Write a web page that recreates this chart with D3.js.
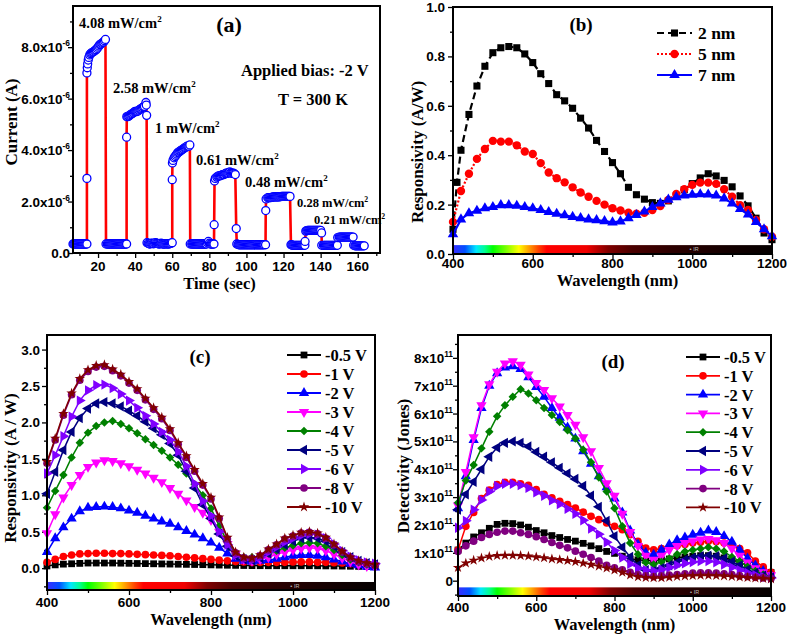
<!DOCTYPE html>
<html><head><meta charset="utf-8">
<script src="https://cdn.jsdelivr.net/npm/d3@7"></script>
<style>body{margin:0;background:#fff}svg{display:block}</style>
</head><body>
<script>
// ---------------- DATA ----------------
// Panel (a): transient photocurrent (units of 1e-6 A)
const timeSec = [
6.5,7,7.5,8,8.5,9,9.5,10,10.5,11,11.5,12,12.5,13,13.5,14,
14,14,14.2,14.4,14.7,15,15.5,16,16.5,17,17.5,18,18.5,19,19.5,20,20.5,21,21.5,22,22.5,23,23.5,24,
24.3,25,25.5,26,26.5,27,27.5,28,28.5,29,29.5,30,30.5,31,31.5,32,32.5,33,33.5,34,34.5,35,35.4,
35.4,35.5,36,36.5,37,37.5,38,38.5,39,39.5,40,40.5,41,41.5,42,42.5,43,43.5,44,44.5,45,45.8,46,46.2,
46.4,47,47.5,48,48.5,49,49.5,50,50.5,51,51.5,52,52.5,53,53.5,54,54.5,55,55.5,56,56.5,57,57.5,58,58.5,59,59.5,60,
60,60.1,60.4,61,61.5,62,62.5,63,63.5,64,64.5,65,65.5,66,66.5,67,67.5,68,68.5,69,69.5,
69.7,70.5,71,71.5,72,72.5,73,73.5,74,74.5,75,75.5,76,76.5,77,77.5,78,78.5,79,79.5,80,80.5,81,81.5,82,82.5,
82.6,82.8,83.2,84,84.5,85,85.5,86,86.5,87,87.5,88,88.5,89,89.5,90,90.5,91,91.5,92,92.5,93,93.5,94,94.5,
94.8,95.5,96,96.5,97,97.5,98,98.5,99,99.5,100,100.5,101,101.5,102,102.5,103,103.5,104,104.5,105,105.5,106,106.5,107,107.5,108,108.5,109,109.5,110.3,
110.4,110.6,111.5,112,112.5,113,113.5,114,114.5,115,115.5,116,116.5,117,117.5,118,118.5,119,119.5,120,120.5,121,121.5,122,122.5,123,123.5,
124,124.5,125,125.5,126,126.5,127,127.5,128,128.5,129,129.5,130,130.5,131,131.5,
131.6,132,132.5,133,133.5,134,134.5,135,135.5,136,136.5,137,137.5,138,138.5,139,139.5,140,140.5,
140.6,141.5,142,142.5,143,143.5,144,144.5,145,145.5,146,146.5,147,147.5,148,148.5,149,
149.2,150,150.5,151,151.5,152,152.5,153,153.5,154,154.5,155,155.5,156,156.5,157,157.5,
157.8,158.5,159,159.5,160,160.5,161,161.5,162,162.5,163,163.5];
const currentMicroA = [
0.35,0.35,0.35,0.35,0.35,0.35,0.35,0.35,0.35,0.35,0.35,0.35,0.35,0.35,0.35,0.35,
2.9,7.0,7.2,7.35,7.5,7.6,7.7,7.75,7.78,7.8,7.82,7.85,7.88,7.9,7.95,8.0,8.05,8.1,8.12,8.15,8.18,8.2,8.25,8.3,
0.35,0.35,0.35,0.35,0.35,0.35,0.35,0.35,0.35,0.35,0.35,0.35,0.35,0.35,0.35,0.35,0.35,0.35,0.35,0.35,0.35,0.35,0.35,
4.5,5.3,5.3,5.32,5.35,5.38,5.4,5.42,5.45,5.48,5.5,5.5,5.5,5.52,5.55,5.58,5.6,5.62,5.65,5.68,5.7,5.85,5.75,5.35,
0.4,0.38,0.36,0.35,0.37,0.38,0.37,0.36,0.38,0.4,0.38,0.37,0.36,0.35,0.36,0.38,0.36,0.35,0.35,0.35,0.36,0.36,0.35,0.35,0.36,0.37,0.38,0.4,
2.85,3.5,3.6,3.7,3.75,3.8,3.85,3.9,3.92,3.95,3.98,4.0,4.02,4.05,4.08,4.1,4.12,4.15,4.15,4.15,4.2,
0.35,0.35,0.35,0.35,0.35,0.35,0.35,0.35,0.35,0.35,0.35,0.35,0.35,0.35,0.35,0.35,0.35,0.35,0.4,0.45,0.38,0.35,0.35,0.35,0.35,0.35,
1.1,2.8,2.9,2.95,2.98,3.0,3.0,3.0,3.02,3.05,3.05,3.05,3.08,3.1,3.1,3.1,3.12,3.15,3.12,3.1,3.1,3.1,3.08,3.05,0.95,
0.35,0.33,0.32,0.32,0.32,0.32,0.32,0.32,0.32,0.32,0.32,0.32,0.32,0.32,0.32,0.32,0.32,0.32,0.32,0.32,0.32,0.32,0.32,0.32,0.32,0.32,0.32,0.32,0.32,0.32,0.32,
1.65,2.1,2.15,2.15,2.15,2.15,2.16,2.17,2.18,2.18,2.18,2.18,2.18,2.18,2.18,2.19,2.19,2.2,2.2,2.2,2.2,2.2,2.2,2.2,2.2,2.2,2.2,
0.32,0.31,0.3,0.3,0.3,0.3,0.3,0.3,0.3,0.3,0.3,0.3,0.3,0.3,0.3,0.3,
0.45,0.85,0.87,0.88,0.88,0.88,0.88,0.88,0.88,0.88,0.88,0.88,0.88,0.88,0.88,0.88,0.88,0.88,0.78,
0.3,0.3,0.3,0.3,0.3,0.3,0.3,0.3,0.3,0.3,0.3,0.3,0.3,0.3,0.3,0.3,0.3,
0.6,0.62,0.62,0.62,0.62,0.62,0.62,0.62,0.62,0.62,0.62,0.62,0.62,0.62,0.62,0.62,0.62,
0.3,0.28,0.28,0.28,0.28,0.28,0.28,0.28,0.28,0.28,0.28,0.28];
const intensityLabels = ["4.08","2.58","1","0.61","0.48","0.28","0.21"];

// Panel (b): responsivity vs wavelength for thicknesses
const wave = [400,420,440,460,480,500,520,540,560,580,600,620,640,660,680,700,720,740,760,780,800,820,840,860,880,900,920,940,960,980,1000,1020,1040,1060,1080,1100,1120,1140,1160,1180,1200];
const wave2nm = [400,410,420,440,460,480,500,520,540,560,580,600,620,640,660,680,700,720,740,760,780,800,820,840,860,880,900,920,940,960,980,1000,1020,1040,1060,1080,1100,1120,1140,1160,1180,1200];
const resp2nm = [0.10,0.29,0.42,0.565,0.68,0.76,0.815,0.835,0.84,0.835,0.81,0.775,0.73,0.69,0.645,0.62,0.59,0.55,0.51,0.46,0.415,0.37,0.325,0.27,0.24,0.222,0.208,0.205,0.215,0.235,0.26,0.285,0.308,0.325,0.316,0.298,0.272,0.235,0.195,0.145,0.085,0.058];
const resp5nm = [0.13,0.255,0.325,0.385,0.425,0.458,0.455,0.455,0.44,0.415,0.405,0.368,0.33,0.307,0.29,0.27,0.249,0.232,0.215,0.2,0.185,0.176,0.167,0.163,0.167,0.178,0.194,0.219,0.243,0.262,0.28,0.289,0.289,0.284,0.262,0.232,0.198,0.178,0.138,0.1,0.07];
const resp7nm = [0.08,0.14,0.165,0.175,0.185,0.19,0.198,0.198,0.195,0.19,0.185,0.178,0.17,0.163,0.157,0.15,0.145,0.14,0.137,0.133,0.128,0.132,0.145,0.158,0.172,0.19,0.205,0.22,0.23,0.237,0.24,0.242,0.241,0.237,0.225,0.205,0.182,0.16,0.13,0.1,0.072];
const thickLabels = ["2 nm","5 nm","7 nm"];

// Panels (c),(d): bias series
const biasLabels = ["-0.5 V","-1 V","-2 V","-3 V","-4 V","-5 V","-6 V","-8 V","-10 V"];
const respC05 = [0.03,0.045,0.055,0.06,0.065,0.07,0.07,0.07,0.07,0.068,0.066,0.064,0.062,0.06,0.058,0.056,0.054,0.052,0.05,0.048,0.045,0.042,0.04,0.038,0.036,0.035,0.034,0.033,0.033,0.033,0.033,0.033,0.033,0.032,0.031,0.03,0.028,0.026,0.024,0.022,0.02];
const respC1 = [0.08,0.12,0.16,0.18,0.195,0.20,0.205,0.205,0.20,0.20,0.195,0.19,0.185,0.18,0.175,0.17,0.16,0.15,0.14,0.13,0.12,0.11,0.10,0.09,0.085,0.08,0.08,0.08,0.08,0.08,0.085,0.085,0.085,0.08,0.08,0.075,0.07,0.06,0.05,0.04,0.03];
const respC2 = [0.22,0.41,0.56,0.68,0.78,0.83,0.84,0.845,0.84,0.82,0.79,0.76,0.72,0.68,0.64,0.61,0.56,0.51,0.46,0.41,0.35,0.28,0.20,0.13,0.10,0.09,0.10,0.11,0.13,0.15,0.17,0.18,0.18,0.17,0.15,0.12,0.09,0.06,0.04,0.02,0.01];
const respC3 = [0.48,0.74,0.97,1.14,1.28,1.39,1.45,1.48,1.47,1.44,1.40,1.35,1.30,1.24,1.18,1.10,1.02,0.93,0.84,0.76,0.66,0.50,0.33,0.19,0.12,0.10,0.12,0.15,0.19,0.22,0.25,0.27,0.28,0.27,0.24,0.19,0.14,0.09,0.05,0.03,0.02];
const respC4 = [0.83,1.06,1.28,1.52,1.72,1.86,1.95,2.00,2.02,1.98,1.92,1.85,1.77,1.69,1.61,1.52,1.42,1.30,1.15,1.00,0.82,0.58,0.36,0.20,0.15,0.15,0.16,0.20,0.24,0.28,0.31,0.34,0.35,0.34,0.30,0.25,0.18,0.12,0.08,0.05,0.03];
const respC5 = [1.02,1.32,1.62,1.87,2.06,2.19,2.26,2.28,2.26,2.22,2.16,2.09,2.01,1.92,1.83,1.71,1.55,1.33,1.10,0.87,0.68,0.47,0.30,0.17,0.12,0.11,0.14,0.20,0.26,0.32,0.37,0.41,0.42,0.41,0.37,0.30,0.22,0.15,0.10,0.07,0.05];
const respC6 = [1.30,1.55,1.81,2.08,2.30,2.44,2.51,2.52,2.47,2.39,2.30,2.20,2.09,1.98,1.87,1.76,1.60,1.40,1.16,0.92,0.72,0.50,0.32,0.18,0.12,0.11,0.15,0.22,0.29,0.36,0.41,0.45,0.47,0.46,0.41,0.33,0.24,0.16,0.11,0.08,0.06];
const respC8 = [1.44,1.76,2.10,2.38,2.58,2.70,2.76,2.77,2.71,2.64,2.54,2.44,2.31,2.18,2.05,1.89,1.70,1.52,1.33,1.14,0.95,0.68,0.40,0.21,0.14,0.13,0.17,0.25,0.32,0.40,0.44,0.48,0.49,0.47,0.41,0.32,0.22,0.14,0.09,0.06,0.04];
const respC10 = [1.46,1.78,2.12,2.40,2.60,2.72,2.78,2.79,2.73,2.66,2.56,2.46,2.33,2.20,2.07,1.91,1.72,1.54,1.35,1.16,0.97,0.70,0.42,0.22,0.15,0.14,0.18,0.26,0.33,0.41,0.45,0.49,0.50,0.48,0.42,0.33,0.23,0.15,0.10,0.07,0.05];
// detectivity in units of 1e11 Jones
const detD05 = [1.1,1.35,1.57,1.72,1.88,2.02,2.06,2.05,2.0,1.92,1.8,1.72,1.62,1.55,1.48,1.42,1.34,1.25,1.15,1.05,0.98,0.88,0.78,0.75,0.72,0.72,0.75,0.78,0.82,0.85,0.88,0.9,0.9,0.88,0.82,0.75,0.65,0.55,0.47,0.4,0.3];
const detD1 = [1.1,1.95,2.45,2.95,3.25,3.45,3.53,3.53,3.48,3.42,3.27,3.1,2.97,2.85,2.73,2.61,2.46,2.31,2.19,2.07,1.95,1.83,1.65,1.41,1.17,1.11,1.15,1.2,1.25,1.3,1.35,1.38,1.42,1.4,1.35,1.25,1.15,1.0,0.7,0.5,0.3];
const detD2 = [2.6,3.75,5.05,6.2,7.0,7.45,7.65,7.7,7.6,7.3,6.95,6.6,6.2,5.85,5.5,5.1,4.65,4.2,3.75,3.35,2.95,2.45,1.8,1.3,1.0,0.93,1.1,1.3,1.45,1.55,1.65,1.72,1.8,1.75,1.6,1.4,1.1,0.8,0.55,0.35,0.2];
const detD3 = [2.7,3.9,5.15,6.3,7.05,7.5,7.8,7.88,7.75,7.4,7.1,6.85,6.55,6.25,5.95,5.6,5.15,4.65,4.05,3.5,3.05,2.4,1.75,1.25,0.9,0.75,0.9,1.1,1.25,1.35,1.42,1.48,1.5,1.45,1.35,1.15,0.9,0.65,0.45,0.3,0.2];
const detD4 = [2.8,3.6,4.15,4.75,5.35,5.9,6.3,6.6,6.87,6.72,6.48,6.2,5.95,5.7,5.4,5.1,4.7,4.25,3.7,3.2,2.6,1.95,1.35,0.95,0.65,0.58,0.68,0.8,0.95,1.05,1.1,1.15,1.2,1.15,1.05,0.85,0.7,0.5,0.35,0.22,0.12];
const detD5 = [2.55,3.1,3.55,4.0,4.45,4.78,4.95,5.0,4.95,4.82,4.62,4.45,4.25,4.05,3.85,3.65,3.4,3.05,2.65,2.15,1.6,1.2,0.85,0.55,0.38,0.35,0.45,0.55,0.65,0.75,0.82,0.88,0.9,0.88,0.8,0.68,0.55,0.4,0.28,0.18,0.12];
const detD6 = [1.9,2.15,2.55,2.9,3.2,3.4,3.48,3.48,3.43,3.33,3.17,3.05,2.88,2.75,2.58,2.4,2.17,1.87,1.67,1.38,1.08,0.83,0.6,0.45,0.38,0.35,0.4,0.47,0.55,0.62,0.67,0.7,0.7,0.66,0.58,0.48,0.38,0.28,0.2,0.14,0.1];
const detD8 = [1.05,1.25,1.42,1.55,1.66,1.74,1.78,1.78,1.72,1.66,1.58,1.48,1.37,1.27,1.18,1.06,0.95,0.83,0.7,0.55,0.46,0.39,0.3,0.22,0.17,0.15,0.17,0.2,0.22,0.25,0.27,0.28,0.28,0.27,0.25,0.22,0.18,0.15,0.12,0.1,0.08];
const detD10 = [0.47,0.63,0.73,0.81,0.87,0.9,0.91,0.91,0.9,0.88,0.85,0.82,0.78,0.75,0.72,0.68,0.63,0.58,0.52,0.45,0.38,0.3,0.2,0.14,0.11,0.1,0.1,0.12,0.15,0.17,0.18,0.19,0.19,0.18,0.17,0.15,0.13,0.11,0.09,0.08,0.06];

// tick values
const ticksA_x = [20,40,60,80,100,120,140,160], ticksA_xMinor = [10,30,50,70,90,110,130,150,170];
const ticksA_y = [0,2,4,6,8], ticksA_yMinor = [1,3,5,7,9];
const ticksW = [400,600,800,1000,1200], ticksW_minor = [500,700,900,1100];
const ticksB_y = [0,0.2,0.4,0.6,0.8,1.0], ticksB_yMinor = [0.1,0.3,0.5,0.7,0.9];
const ticksC_y = [0,0.5,1.0,1.5,2.0,2.5,3.0], ticksC_yMinor = [-0.25,0.25,0.75,1.25,1.75,2.25,2.75];
const ticksD_y = [0,1,2,3,4,5,6,7,8], ticksD_yMinor = [-0.5,0.5,1.5,2.5,3.5,4.5,5.5,6.5,7.5,8.5];

// spectrum colour bar stops (nm, colour)
const specStops = [[400,"#3b2cff"],[430,"#0050ff"],[458,"#00e8ff"],[480,"#00ff90"],[500,"#00ff00"],[530,"#70ff00"],[565,"#ffff00"],[590,"#ffa000"],[615,"#ff4000"],[635,"#ff0000"],[735,"#f00000"],[790,"#800000"],[850,"#4a0000"],[950,"#2c0000"],[1100,"#120000"],[1200,"#050000"]];

// ---------------- DRAW ----------------
const SERIF = "'Liberation Serif','Times New Roman',serif";
const SANS = "'Liberation Sans',Arial,sans-serif";
const svg = d3.select("body").append("svg").attr("width",787).attr("height",636);
svg.append("rect").attr("width",787).attr("height",636).attr("fill","#fff");

const defs = svg.append("defs");
const grad = defs.append("linearGradient").attr("id","spec").attr("x1","0").attr("x2","1").attr("y1","0").attr("y2","0");
specStops.forEach(s=>grad.append("stop").attr("offset",(s[0]-400)/800).attr("stop-color",s[1]));

function supText(g,x,y,main,sup,size,font,anchor){
  const t=g.append("text").attr("x",x).attr("y",y).attr("font-family",font).attr("font-weight","bold")
    .attr("font-size",size).attr("text-anchor",anchor||"start").attr("fill","#000");
  t.append("tspan").text(main);
  if(sup) t.append("tspan").attr("dy",-size*0.42).attr("font-size",size*0.62).text(sup);
  return t;
}

function panel(c){
  const x=d3.scaleLinear().domain(c.xd).range([c.l,c.r]);
  const y=d3.scaleLinear().domain(c.yd).range([c.b,c.t]);
  const g=svg.append("g");
  const style=s=>{s.select(".domain").remove();s.selectAll("line").attr("stroke","#000").attr("stroke-width",1.3);};
  g.append("g").attr("transform",`translate(0,${c.b})`).call(d3.axisBottom(x).tickValues(c.xMaj).tickSize(5).tickFormat("")).call(style);
  g.append("g").attr("transform",`translate(0,${c.b})`).call(d3.axisBottom(x).tickValues(c.xMin).tickSize(3).tickFormat("")).call(style);
  g.append("g").attr("transform",`translate(${c.l},0)`).call(d3.axisLeft(y).tickValues(c.yMaj).tickSize(5).tickFormat("")).call(style);
  g.append("g").attr("transform",`translate(${c.l},0)`).call(d3.axisLeft(y).tickValues(c.yMin).tickSize(3).tickFormat("")).call(style);
  c.xMaj.forEach(v=>g.append("text").attr("x",x(v)).attr("y",c.xLabY).attr("text-anchor","middle")
     .attr("font-family",SANS).attr("font-weight","bold").attr("font-size",13.5).text(c.xFmt(v)));
  c.yMaj.forEach(v=>{const f=c.yFmt(v); supText(g,c.l-c.yLabGap,y(v)+5,f[0],f[1],13.5,SANS,"end");});
  // axis titles
  g.append("text").attr("x",(c.l+c.r)/2+(c.xTitleDx||0)).attr("y",c.xTitleY).attr("text-anchor","middle")
    .attr("font-family",SERIF).attr("font-weight","bold").attr("font-size",16.5).text(c.xTitle);
  g.append("text").attr("transform",`translate(${c.yTitleX},${c.yTitleY}) rotate(-90)`).attr("text-anchor","middle")
    .attr("font-family",SERIF).attr("font-weight","bold").attr("font-size",17).text(c.yTitle);
  const plot=g.append("g");
  g.append("rect").attr("x",c.l).attr("y",c.t).attr("width",c.r-c.l).attr("height",c.b-c.t)
    .attr("fill","none").attr("stroke","#000").attr("stroke-width",2);
  return {x,y,g,plot};
}

function specBar(p,v0,v1){
  p.plot.append("rect").attr("x",p.x(400)).attr("width",p.x(1200)-p.x(400))
    .attr("y",p.y(v1)).attr("height",p.y(v0)-p.y(v1)).attr("fill","url(#spec)");
  p.plot.append("text").attr("x",p.x(1005)).attr("y",(p.y(v0)+p.y(v1))/2+2).attr("text-anchor","middle")
    .attr("font-family",SANS).attr("font-size",5.5).attr("fill","#bbb").text("▪ IR");
}

const symType = {
  square:[d3.symbolSquare,0], circle:[d3.symbolCircle,0], up:[d3.symbolTriangle,0], down:[d3.symbolTriangle,180],
  diamond:[d3.symbolSquare,45], left:[d3.symbolTriangle,-90], right:[d3.symbolTriangle,90], star:[d3.symbolStar,0]
};
function marker(g,x,y,type,size,color){
  const s=symType[type];
  g.append("path").attr("d",d3.symbol().type(s[0]).size(size)()).attr("fill",color)
    .attr("transform",`translate(${x},${y}) rotate(${s[1]})`);
}

// ----- Panel (a)
const pa = panel({l:73,r:380,t:6,b:253,xd:[6.5,172],yd:[0,9.6],
  xMaj:ticksA_x,xMin:ticksA_xMinor,yMaj:ticksA_y,yMin:ticksA_yMinor,
  xFmt:d=>d,yFmt:d=>d===0?["0.0",""]:[d.toFixed(1)+"x10","-6"],xLabY:271,yLabGap:3,
  xTitle:"Time (sec)",xTitleY:289,xTitleDx:-7,yTitle:"Current (A)",yTitleX:17,yTitleY:122});
{
  const pts=timeSec.map((t,i)=>[t,currentMicroA[i]]);
  pa.plot.append("path").attr("d",d3.line().x(d=>pa.x(d[0])).y(d=>pa.y(d[1]))(pts))
    .attr("fill","none").attr("stroke","#ff0000").attr("stroke-width",2.6);
  pa.plot.selectAll("circle").data(pts).join("circle").attr("cx",d=>pa.x(d[0])).attr("cy",d=>pa.y(d[1]))
    .attr("r",4).attr("fill","#fff").attr("stroke","#0000ff").attr("stroke-width",1.3);
  const lab=[[79,28,14.5],[113,93,14.5],[155,133,14.5],[196,165,14.5],[245,187,14.5],[297,207,12.5],[314,224,12.5]];
  intensityLabels.forEach((s,i)=>supText(pa.g,lab[i][0],lab[i][1],s+" mW/cm","2",lab[i][2],SERIF));
  pa.g.append("text").attr("x",229).attr("y",32).attr("text-anchor","middle").attr("font-family",SERIF)
    .attr("font-weight","bold").attr("font-size",22).text("(a)");
  pa.g.append("text").attr("x",241).attr("y",76).attr("font-family",SERIF).attr("font-weight","bold").attr("font-size",16.5).text("Applied bias: -2 V");
  pa.g.append("text").attr("x",278).attr("y",105).attr("font-family",SERIF).attr("font-weight","bold").attr("font-size",16.5).text("T = 300 K");
}

// ----- Panel (b)
const pb = panel({l:453,r:772,t:7,b:254,xd:[400,1200],yd:[0,1],
  xMaj:ticksW,xMin:ticksW_minor,yMaj:ticksB_y,yMin:ticksB_yMinor,
  xFmt:d=>d,yFmt:d=>[d.toFixed(1),""],xLabY:268,yLabGap:8,
  xTitle:"Wavelength (nm)",xTitleY:286,xTitleDx:5,yTitle:"Responsivity (A/W)",yTitleX:423,yTitleY:152});
specBar(pb,0.003,0.036);
{
  const ser=[
    {w:wave2nm,v:resp2nm,c:"#000",dash:"7,4",sym:"square",sz:50},
    {w:wave,v:resp5nm,c:"#ff0000",dash:"2,2",sym:"circle",sz:55},
    {w:wave,v:resp7nm,c:"#0000ff",dash:null,sym:"up",sz:48}];
  ser.forEach((s,k)=>{
    const pts=s.w.map((w,i)=>[w,s.v[i]]);
    const p=pb.plot.append("path").attr("d",d3.line().x(d=>pb.x(d[0])).y(d=>pb.y(d[1]))(pts))
      .attr("fill","none").attr("stroke",s.c).attr("stroke-width",2.2);
    if(s.dash)p.attr("stroke-dasharray",s.dash);
    pts.forEach(d=>marker(pb.plot,pb.x(d[0]),pb.y(d[1]),s.sym,s.sz,s.c));
    const ly=33+k*21;
    const l=pb.g.append("line").attr("x1",657).attr("x2",692).attr("y1",ly).attr("y2",ly).attr("stroke",s.c).attr("stroke-width",2.2);
    if(s.dash)l.attr("stroke-dasharray",s.dash);
    marker(pb.g,674.5,ly,s.sym,s.sz,s.c);
    pb.g.append("text").attr("x",698).attr("y",ly+6).attr("font-family",SERIF).attr("font-weight","bold").attr("font-size",17.5).text(thickLabels[k]);
  });
  pb.g.append("text").attr("x",581).attr("y",31).attr("text-anchor","middle").attr("font-family",SERIF)
    .attr("font-weight","bold").attr("font-size",19).text("(b)");
}

// ----- Panels (c),(d)
const biasColors=["#000000","#ff0000","#0000ff","#ff00ff","#008000","#000080","#8000ff","#800080","#800000"];
const biasSyms=["square","circle","up","down","diamond","left","right","circle","star"];
function biasPanel(p,series,legX,legY,legStep,letter,letX,letY){
  series.forEach((vals,k)=>{
    const pts=wave.map((w,i)=>[w,vals[i]]);
    p.plot.append("path").attr("d",d3.line().x(d=>p.x(d[0])).y(d=>p.y(d[1]))(pts))
      .attr("fill","none").attr("stroke",biasColors[k]).attr("stroke-width",1.5);
    const sz=biasSyms[k]==="star"?34:(biasSyms[k]==="diamond"?36:46);
    pts.forEach(d=>marker(p.plot,p.x(d[0]),p.y(d[1]),biasSyms[k],sz,biasColors[k]));
    const ly=legY+k*legStep;
    p.g.append("line").attr("x1",legX).attr("x2",legX+34).attr("y1",ly).attr("y2",ly).attr("stroke",biasColors[k]).attr("stroke-width",1.8);
    marker(p.g,legX+17,ly,biasSyms[k],sz,biasColors[k]);
    p.g.append("text").attr("x",legX+38).attr("y",ly+6).attr("font-family",SERIF).attr("font-weight","bold").attr("font-size",16.5).text(biasLabels[k]);
  });
  p.g.append("text").attr("x",letX).attr("y",letY).attr("text-anchor","middle").attr("font-family",SERIF)
    .attr("font-weight","bold").attr("font-size",19).text(letter);
}
const pc = panel({l:47,r:375,t:335,b:590,xd:[400,1200],yd:[-0.3,3.2],
  xMaj:ticksW,xMin:ticksW_minor,yMaj:ticksC_y,yMin:ticksC_yMinor,
  xFmt:d=>d,yFmt:d=>[d.toFixed(1),""],xLabY:607,yLabGap:7,
  xTitle:"Wavelength (nm)",xTitleY:625,xTitleDx:0,yTitle:"Responsivity (A / W)",yTitleX:16,yTitleY:468});
specBar(pc,-0.3,-0.19);
biasPanel(pc,[respC05,respC1,respC2,respC3,respC4,respC5,respC6,respC8,respC10],287,355,19,"(c)",200,363);

const pd = panel({l:458,r:771,t:335,b:596,xd:[400,1200],yd:[-0.55,8.82],
  xMaj:ticksW,xMin:ticksW_minor,yMaj:ticksD_y,yMin:ticksD_yMinor,
  xFmt:d=>d,yFmt:d=>d===0?["0",""]:[d+"x10","11"],xLabY:612,yLabGap:5,
  xTitle:"Wavelength (nm)",xTitleY:630,xTitleDx:0,yTitle:"Detectivity (Jones)",yTitleX:409,yTitleY:466});
specBar(pd,-0.54,-0.24);
biasPanel(pd,[detD05,detD1,detD2,detD3,detD4,detD5,detD6,detD8,detD10],686,357,18.8,"(d)",613,368);
</script>
</body></html>
